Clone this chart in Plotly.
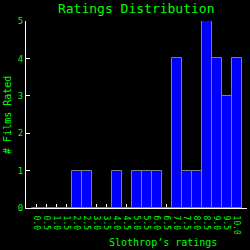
import plotly.graph_objects as go

ratings = ["0.0","0.5","1.0","1.5","2.0","2.5","3.0","3.5","4.0","4.5","5.0",
           "5.5","6.0","6.5","7.0","7.5","8.0","8.5","9.0","9.5","10.0"]
counts = [0,0,0,0,1,1,0,0,1,0,1,1,1,0,4,1,1,5,4,3,4]
y_ticks = [0,1,2,3,4,5]

GREEN = "#00ff00"
FONT = "DejaVu Sans Mono"

fig = go.Figure()
fig.add_trace(go.Bar(
    x=list(range(len(ratings))), y=counts,
    marker=dict(color="#0000ff", line=dict(color="#808080", width=1)),
    width=1.0,
))

fig.update_layout(
    width=250, height=250,
    paper_bgcolor="black", plot_bgcolor="black",
    margin=dict(l=26, r=3, t=21, b=42),
    bargap=0,
    showlegend=False,
    font=dict(family=FONT, color=GREEN),
    title=dict(text="Ratings Distribution", x=0.545, xanchor="center",
               y=0.966, yanchor="middle",
               font=dict(family=FONT, size=13, color=GREEN)),
    xaxis=dict(
        range=[-1.05, 21.05],
        tickmode="array", tickvals=list(range(len(ratings))), ticktext=ratings,
        tickangle=90, tickfont=dict(family=FONT, size=8, color=GREEN),
        ticks="inside", ticklen=4, tickcolor="white", tickwidth=1,
        ticklabelstandoff=5,
        showline=True, linecolor="white", linewidth=1,
        showgrid=False, zeroline=False, layer="below traces",
    ),
    yaxis=dict(
        range=[0, 5],
        tickmode="array", tickvals=y_ticks,
        tickfont=dict(family=FONT, size=9, color=GREEN),
        ticks="inside", ticklen=4, tickcolor="white", tickwidth=1,
        showline=True, linecolor="white", linewidth=1,
        showgrid=False, zeroline=False,
    ),
    annotations=[
        dict(text="Slothrop\u2019s ratings", xref="paper", yref="paper",
             x=0.62, y=-0.187, xanchor="center", yanchor="middle",
             showarrow=False, font=dict(family=FONT, size=10, color=GREEN)),
        dict(text="# Films Rated", xref="paper", yref="paper",
             x=-0.084, y=0.5, xanchor="center", yanchor="middle",
             textangle=-90, showarrow=False,
             font=dict(family=FONT, size=10, color=GREEN)),
    ],
)

fig.write_html("out.html")
